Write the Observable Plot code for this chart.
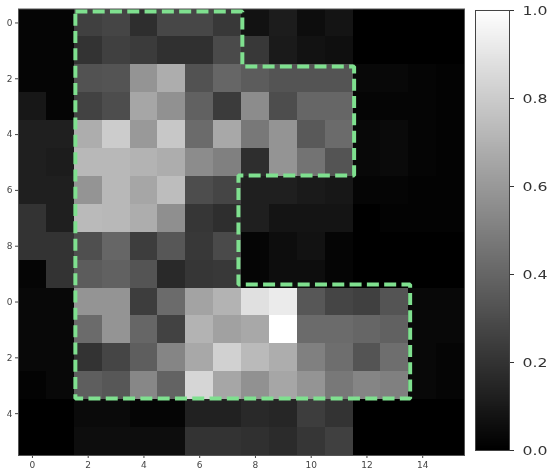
<!DOCTYPE html>
<html>
<head>
<meta charset="utf-8">
<script src="https://cdn.jsdelivr.net/npm/d3@7"></script>
<script src="https://cdn.jsdelivr.net/npm/@observablehq/plot@0.6"></script>
<style>
html,body{margin:0;padding:0;background:#fff;width:550px;height:474px;overflow:hidden}
#wrap{position:relative;width:550px;height:474px}
#wrap svg{position:absolute;left:0;top:0;background:transparent;filter:blur(0.45px)}
</style>
</head>
<body>
<div id="wrap"></div>
<script>
const row0  = [.02,.02,.25,.27,.18,.28,.28,.22,.07,.11,.05,.08,0,0,0,0];
const row1  = [.02,.02,.20,.25,.23,.19,.19,.29,.22,.10,.07,.06,0,0,0,0];
const row2  = [.02,.02,.32,.33,.58,.68,.32,.40,.36,.33,.33,.33,.03,.03,.02,.01];
const row3  = [.09,.02,.26,.30,.65,.57,.38,.23,.55,.30,.40,.40,.02,.02,.02,.01];
const row4  = [.12,.12,.68,.80,.60,.78,.42,.66,.47,.58,.35,.42,.03,.04,.02,.01];
const row5  = [.12,.11,.72,.72,.70,.68,.55,.50,.18,.58,.45,.33,.03,.04,.02,.01];
const row6  = [.12,.12,.58,.72,.65,.74,.30,.27,.12,.12,.10,.09,.02,.02,.01,.01];
const row7  = [.20,.12,.73,.72,.68,.56,.21,.18,.12,.08,.08,.08,0,.01,.01,.01];
const row8  = [.20,.20,.31,.40,.24,.34,.22,.29,.02,.05,.07,.02,0,0,0,0];
const row9  = [.02,.20,.36,.38,.33,.16,.21,.22,.02,.05,.05,.02,0,0,0,0];
const row10 = [.03,.03,.58,.58,.24,.42,.64,.70,.88,.92,.34,.27,.25,.33,.03,.03];
const row11 = [.03,.03,.42,.58,.40,.26,.70,.63,.66,1,.42,.42,.40,.38,.03,.03];
const row12 = [.03,.03,.20,.27,.37,.52,.66,.82,.73,.68,.50,.43,.33,.43,.03,.02];
const row13 = [.01,.03,.37,.34,.53,.39,.84,.65,.57,.65,.58,.47,.52,.50,.03,.02];
const row14 = [0,0,.04,.04,.02,.02,.13,.13,.16,.15,.24,.20,0,0,0,0];
const row15 = [0,0,.05,.05,.05,.05,.20,.20,.19,.17,.21,.25,0,0,0,0];
const rows = [row0,row1,row2,row3,row4,row5,row6,row7,row8,row9,row10,row11,row12,row13,row14,row15];

const outlineX = [1.54,7.53,7.53,11.54,11.54,7.39,7.39,13.55,13.55,1.54,1.54];
const outlineY = [-.41,-.41,1.56,1.56,5.47,5.47,9.37,9.37,13.46,13.46,-.41];
const xTicks = [0,2,4,6,8,10,12,14];
const yTicks = [0,2,4,6,8,10,12,14];
const yTickLabels = ["0","2","4","6","8","0","2","4"];
const barTicks = [0,.2,.4,.6,.8,1];

const cells = rows.flatMap((r,j)=>r.map((v,i)=>({i,j,v})));
const outline = outlineX.map((x,k)=>({x,y:outlineY[k]}));
const gray = {type:"linear",domain:[0,1],range:["#000","#fff"]};

const main = Plot.plot({
  width:550,height:474,marginLeft:18,marginTop:8.5,marginRight:86,marginBottom:19,
  style:{fontFamily:"'DejaVu Sans'",fontSize:"9px",color:"#444",background:"transparent"},
  x:{domain:[-.5,15.5],ticks:xTicks,tickSize:3,tickPadding:3,label:null,tickFormat:d=>String(d)},
  y:{domain:[15.5,-.5],ticks:yTicks,tickSize:3,tickPadding:3,label:null,tickFormat:d=>yTickLabels[yTicks.indexOf(d)]},
  color:gray,
  marks:[
    Plot.rect(cells,{x1:d=>d.i-.5,x2:d=>d.i+.5,y1:d=>d.j-.5,y2:d=>d.j+.5,fill:"v",inset:0,shapeRendering:"crispEdges"}),
    Plot.frame({stroke:"#555",strokeWidth:1}),
    Plot.line(outline,{x:"x",y:"y",stroke:"#7fe08f",strokeWidth:4,strokeLinecap:"butt",strokeLinejoin:"miter",strokeDasharray:"12,5.3"})
  ]
});

const levels = d3.range(0,1,.004);
const bar = Plot.plot({
  width:550,height:474,marginLeft:475,marginRight:41,marginTop:10,marginBottom:24,
  style:{fontFamily:"'DejaVu Sans'",fontSize:"13px",color:"#333",background:"transparent"},
  x:{axis:null,domain:[0,1]},
  y:{domain:[0,1],ticks:barTicks,axis:"right",tickSize:4,tickPadding:9,label:null,tickFormat:d3.format(".1f")},
  color:gray,
  marks:[
    Plot.rect(levels,{x1:0,x2:1,y1:d=>d,y2:d=>d+.006,fill:d=>d,inset:0,shapeRendering:"crispEdges"}),
    Plot.frame({stroke:"#444",strokeWidth:1})
  ]
});

const wrap = document.getElementById("wrap");
wrap.append(main);
wrap.append(bar);
bar.querySelectorAll("g[aria-label='y-axis tick label'] text").forEach(t=>{
  t.setAttribute("textLength","25");
  t.setAttribute("lengthAdjust","spacingAndGlyphs");
});
</script>
</body>
</html>
